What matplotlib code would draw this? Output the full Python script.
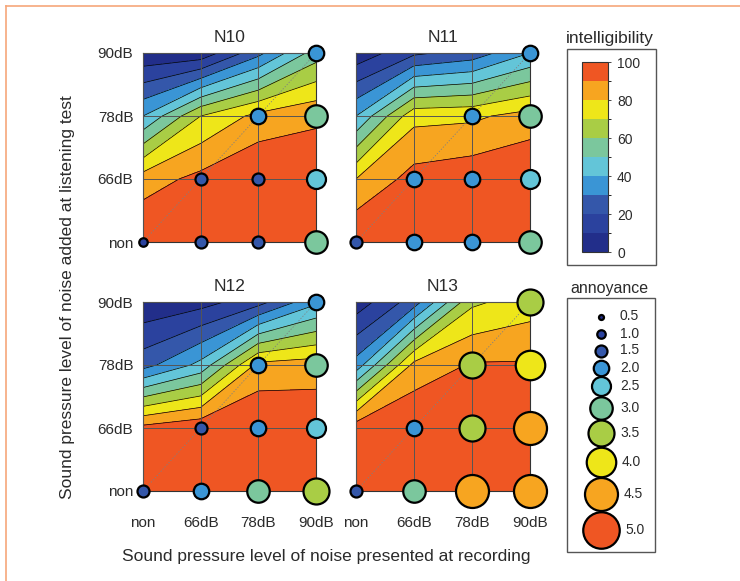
import numpy as np
import matplotlib
matplotlib.use("Agg")
import matplotlib.pyplot as plt
from matplotlib.colors import ListedColormap, BoundaryNorm
from matplotlib.patches import Rectangle
from matplotlib.lines import Line2D
from matplotlib.cm import ScalarMappable

plt.rcParams['font.family'] = ['Liberation Sans', 'DejaVu Sans']
plt.rcParams['text.color'] = '#2b2b2b'

# noise levels (x: at recording, y: added at listening test)
noise_labels = ['non', '66dB', '78dB', '90dB']
panel_titles = ['N10', 'N11', 'N12', 'N13']

intel_levels = np.arange(0, 101, 10)
band_colors = ['#222e8a', '#2b429e', '#3457aa', '#3a95d5', '#63c5d8',
               '#7bc79d', '#a9cd45', '#eee619', '#f7a520', '#ef5623']

# intelligibility [%], rows = listening noise (non..90dB), cols = recording noise
intel_n10 = [[100, 100, 100, 100],
             [85, 93, 100, 98],
             [40, 70, 83, 88],
             [2, 3, 27, 55]]
intel_n11 = [[100, 100, 100, 100],
             [80, 94, 97, 100],
             [40, 77, 78, 84],
             [3, 18, 24, 40]]
intel_n12 = [[100, 100, 100, 100],
             [93, 98, 100, 98],
             [26, 43, 83, 85],
             [2, 6, 16, 38]]
intel_n13 = [[100, 100, 100, 100],
             [96, 100, 100, 100],
             [34, 83, 91, 91],
             [4, 25, 68, 75]]

# annoyance ratings, only where recording noise >= listening noise
nan = np.nan
annoy_n10 = [[1.0, 1.5, 1.5, 3.0],
             [nan, 1.5, 1.5, 2.5],
             [nan, nan, 2.0, 3.0],
             [nan, nan, nan, 2.0]]
annoy_n11 = [[1.5, 2.0, 2.0, 3.0],
             [nan, 2.0, 2.0, 2.5],
             [nan, nan, 2.0, 3.0],
             [nan, nan, nan, 2.0]]
annoy_n12 = [[1.5, 2.0, 3.0, 3.5],
             [nan, 1.5, 2.0, 2.5],
             [nan, nan, 2.0, 3.0],
             [nan, nan, nan, 2.0]]
annoy_n13 = [[1.5, 3.0, 4.5, 4.5],
             [nan, 2.0, 3.5, 4.5],
             [nan, nan, 3.5, 4.0],
             [nan, nan, nan, 3.5]]

annoy_legend = [0.5, 1.0, 1.5, 2.0, 2.5, 3.0, 3.5, 4.0, 4.5, 5.0]

intel_all = [intel_n10, intel_n11, intel_n12, intel_n13]
annoy_all = [annoy_n10, annoy_n11, annoy_n12, annoy_n13]

W, H = 740, 581
cmap = ListedColormap(band_colors)
norm = BoundaryNorm(intel_levels, cmap.N)


def px_axes(fig, left, top, w, h):
    return fig.add_axes([left / W, 1 - (top + h) / H, w / W, h / H])


def dot_px(v):
    # marker diameter in pixels grows with annoyance
    return 1.5 + 7.0 * v


def dot_color(v):
    return band_colors[int(np.clip(round(2 * v) - 1, 0, 9))]


fig = plt.figure(figsize=(W / 100, H / 100), dpi=100)

# orange frame of the page
fig.add_artist(Line2D([6 / W, 1], [1 - 6 / H, 1 - 6 / H], color='#f6a77a',
                      lw=1.2, transform=fig.transFigure))
fig.add_artist(Line2D([6 / W, 6 / W], [0, 1 - 6 / H], color='#f6a77a',
                      lw=1.2, transform=fig.transFigure))

boxes = [(143, 53, 173, 189), (356, 53, 174, 189),
         (143, 302, 173, 189), (356, 302, 174, 189)]
gx = np.arange(4)
gy = np.arange(4)

axes = []
for k in range(4):
    ax = px_axes(fig, *boxes[k])
    axes.append(ax)
    Z = np.array(intel_all[k], dtype=float)
    ax.contourf(gx, gy, Z, levels=intel_levels, cmap=cmap, norm=norm)
    ax.contour(gx, gy, Z, levels=intel_levels[1:-1], colors='k', linewidths=0.5)
    for p in range(4):
        ax.axvline(p, color='#555555', lw=0.7, zorder=3)
        ax.axhline(p, color='#555555', lw=0.7, zorder=3)
    ax.plot([0, 3], [0, 3], ls=(0, (1.5, 2)), color='#808080', lw=0.6, zorder=4)

    ax.set_xlim(0, 3)
    ax.set_ylim(0, 3)
    ax.set_yticks(gy)
    ax.set_xticks(gx)
    if k % 2 == 0:
        ax.set_yticklabels(noise_labels, fontsize=11, color='#2b2b2b')
    else:
        ax.set_yticklabels([])
    if k >= 2:
        ax.set_xticklabels(noise_labels, fontsize=11, color='#2b2b2b')
    else:
        ax.set_xticklabels([])
    ax.tick_params(length=0, pad=7)
    ax.tick_params(axis='x', pad=18)
    for s in ax.spines.values():
        s.set_color('#333333')
        s.set_linewidth(0.8)
    ax.set_title(panel_titles[k], fontsize=12.5, pad=8, color='#2b2b2b')

# annoyance dots go on top of every panel
for k, ax in enumerate(axes):
    A = np.array(annoy_all[k], dtype=float)
    for j in range(4):
        for i in range(4):
            v = A[j, i]
            if np.isnan(v):
                continue
            ax.plot(i, j, 'o', ms=dot_px(v) * 0.72, mfc=dot_color(v), mec='black',
                    mew=1.6, clip_on=False, zorder=10)

fig.text(68 / W, 1 - 297 / H, 'Sound pressure level of noise added at listening test',
         rotation=90, ha='center', va='center', fontsize=12.5)
fig.text(326 / W, 1 - 557 / H, 'Sound pressure level of noise presented at recording',
         ha='center', va='center', fontsize=12.5)

# intelligibility colour scale
fig.add_artist(Rectangle((567 / W, 1 - 265 / H), 89 / W, 216 / H, fill=False,
                         ec='#555555', lw=1.0, transform=fig.transFigure))
fig.text(610 / W, 1 - 38 / H, 'intelligibility', ha='center', va='center', fontsize=12.5)
cax = px_axes(fig, 582, 62, 26, 190)
sm = ScalarMappable(norm=norm, cmap=cmap)
cb = fig.colorbar(sm, cax=cax, ticks=np.arange(0, 101, 20))
cb.outline.set_edgecolor('#333333')
cb.outline.set_linewidth(0.8)
cax.tick_params(length=2.5, width=0.6, pad=4, labelsize=10, colors='#2b2b2b')

# annoyance size/colour key
fig.add_artist(Rectangle((567 / W, 1 - 552 / H), 88 / W, 254 / H, fill=False,
                         ec='#555555', lw=1.0, transform=fig.transFigure))
fig.text(609 / W, 1 - 288 / H, 'annoyance', ha='center', va='center', fontsize=11.5)
lax = px_axes(fig, 567, 298, 88, 254)
lax.set_xlim(0, 88)
lax.set_ylim(254, 0)
lax.axis('off')
yc = 18.5
prev = None
for v in annoy_legend:
    d = dot_px(v)
    if prev is not None:
        yc += max(17, (prev + d) / 2 + 1.0)
    lax.plot(34, yc, 'o', ms=d * 0.72, mfc=dot_color(v), mec='black', mew=1.6,
             clip_on=False)
    lax.text(max(53, 34 + d / 2 + 6), yc, f'{v:.1f}', va='center', ha='left',
             fontsize=10)
    prev = d

fig.savefig('out.png', dpi=100)
